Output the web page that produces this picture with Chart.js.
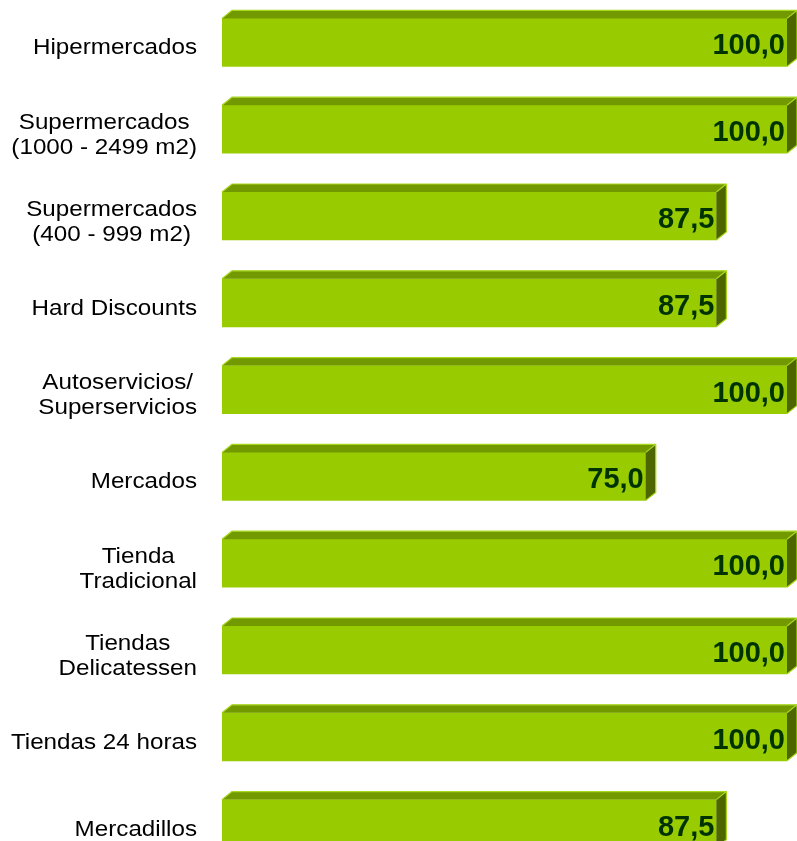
<!DOCTYPE html>
<html>
<head>
<meta charset="utf-8">
<script src="https://cdn.jsdelivr.net/npm/chart.js@4.4.1/dist/chart.umd.min.js"></script>
<style>
  html, body { margin: 0; padding: 0; background: #fff; overflow: hidden; }
  #wrap { position: relative; width: 797px; height: 841px; overflow: hidden; }
  #chart { position: absolute; left: 0; top: -1px; }
</style>
</head>
<body>
<div id="wrap"><canvas id="chart" width="797" height="868"></canvas></div>
<script>
'use strict';

// ── Data ──
const categories = [
    ['Hipermercados'],
    ['Supermercados', '(1000 - 2499 m2)'],
    ['Supermercados', '(400 - 999 m2)'],
    ['Hard Discounts'],
    ['Autoservicios/', 'Superservicios'],
    ['Mercados'],
    ['Tienda', 'Tradicional'],
    ['Tiendas', 'Delicatessen'],
    ['Tiendas 24 horas'],
    ['Mercadillos']
];
const values = [100.0, 100.0, 87.5, 87.5, 100.0, 75.0, 100.0, 100.0, 100.0, 87.5];

// ── 3D look ──
const DX = 10, DY = 8;
const FRONT = '#99CC00', TOP = '#739900', SIDE = '#4D6600', EDGE = '#A8D81A';

const bar3d = {
    id: 'bar3d',
    afterDatasetsDraw(chart) {
        const ctx = chart.ctx;
        const meta = chart.getDatasetMeta(0);
        ctx.save();
        meta.data.forEach(bar => {
            const { x, y, base, height } = bar.getProps(['x', 'y', 'base', 'height'], true);
            const top = y - height / 2, bot = y + height / 2;
            // top face
            ctx.beginPath();
            ctx.moveTo(base, top); ctx.lineTo(base + DX, top - DY);
            ctx.lineTo(x + DX, top - DY); ctx.lineTo(x, top); ctx.closePath();
            ctx.fillStyle = TOP; ctx.fill();
            // side face
            ctx.beginPath();
            ctx.moveTo(x, top); ctx.lineTo(x + DX, top - DY);
            ctx.lineTo(x + DX, bot - DY); ctx.lineTo(x, bot); ctx.closePath();
            ctx.fillStyle = SIDE; ctx.fill();
            // light edges
            ctx.strokeStyle = EDGE; ctx.lineWidth = 1.2;
            ctx.beginPath();
            ctx.moveTo(base, top); ctx.lineTo(base + DX, top - DY);
            ctx.lineTo(x + DX, top - DY); ctx.lineTo(x + DX, bot - DY); ctx.lineTo(x, bot);
            ctx.moveTo(x, top); ctx.lineTo(x + DX, top - DY);
            ctx.stroke();
        });
        ctx.restore();
    },
    afterDraw(chart) {
        const ctx = chart.ctx;
        const yScale = chart.scales.y;
        const meta = chart.getDatasetMeta(0);
        ctx.save();
        // category labels: block right-aligned, lines centred within it
        ctx.font = '22px Arial, "Liberation Sans", sans-serif';
        ctx.fillStyle = '#000';
        ctx.textAlign = 'center';
        ctx.textBaseline = 'middle';
        const sx = 1.1, lh = 25, rightEdge = 197;
        chart.data.labels.forEach((lines, i) => {
            const w = Math.max(...lines.map(l => ctx.measureText(l).width)) * sx;
            const cx = rightEdge - w / 2;
            const cy = yScale.getPixelForValue(i) + 6;
            lines.forEach((l, k) => {
                const ly = cy + (k - (lines.length - 1) / 2) * lh;
                ctx.save(); ctx.translate(cx, ly); ctx.scale(sx, 1);
                ctx.fillText(l, 0, 0);
                ctx.restore();
            });
        });
        // value labels
        ctx.font = 'bold 29px Arial, "Liberation Sans", sans-serif';
        ctx.fillStyle = '#003300';
        ctx.textAlign = 'right';
        meta.data.forEach((bar, i) => {
            const v = chart.data.datasets[0].data[i];
            ctx.fillText(v.toFixed(1).replace('.', ','), bar.x - 2, bar.y + 4);
        });
        ctx.restore();
    }
};

new Chart(document.getElementById('chart'), {
    type: 'bar',
    data: {
        labels: categories,
        datasets: [{
            data: values,
            backgroundColor: FRONT,
            borderWidth: 0,
            barThickness: 48
        }]
    },
    options: {
        indexAxis: 'y',
        responsive: false,
        animation: false,
        layout: { padding: { left: 222, right: 10, top: 0, bottom: 0 } },
        plugins: { legend: { display: false }, tooltip: { enabled: false } },
        scales: {
            x: { display: false, min: 0, max: 100 },
            y: { display: false }
        }
    },
    plugins: [bar3d]
});
</script>
</body>
</html>
